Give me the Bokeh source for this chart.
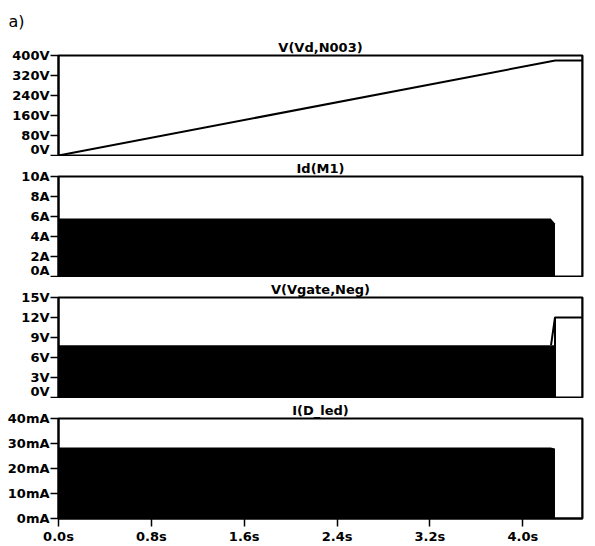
from bokeh.plotting import figure
from bokeh.layouts import column
from bokeh.models import Range1d, FixedTicker, Title, Span
from bokeh.embed import file_html
from bokeh.resources import INLINE

# ---------------- data ----------------
x_end = 4.514
x_ticks = [0.0, 0.8, 1.6, 2.4, 3.2, 4.0]
x_labels = ["0.0s", "0.8s", "1.6s", "2.4s", "3.2s", "4.0s"]

# V(Vd,N003)
vd_t = [0.0, 4.279, 4.514]
vd_v = [0.0, 380.0, 380.0]
vd_ticks = [0, 80, 160, 240, 320, 400]
vd_labels = ["0V", "80V", "160V", "240V", "320V", "400V"]

# switching envelope times (waveform switches too fast -> solid black)
env_t = [0.0, 4.24, 4.277]

# Id(M1)
id_env = [5.8, 5.8, 5.3]
id_ticks = [0, 2, 4, 6, 8, 10]
id_labels = ["0A", "2A", "4A", "6A", "8A", "10A"]

# V(Vgate,Neg)
gate_env = [7.85, 7.85, 7.85]
gate_tail_t = [4.243, 4.277, 4.514]
gate_tail_v = [7.85, 12.0, 12.0]
gate_edge_t = [4.277, 4.277]
gate_edge_v = [0.0, 12.0]
gate_ticks = [0, 3, 6, 9, 12, 15]
gate_labels = ["0V", "3V", "6V", "9V", "12V", "15V"]

# I(D_led) in mA
led_env = [28.4, 28.4, 28.0]
led_ticks = [0, 10, 20, 30, 40]
led_labels = ["0mA", "10mA", "20mA", "30mA", "40mA"]

FONT = "DejaVu Sans"
FS = "13px"
LEFT = 58
FW = 524
FH = 100
RIGHT = 13


def make_panel(title, ymax, yticks, ylabels, top, bottom, show_x):
    p = figure(width=LEFT + FW + RIGHT, height=top + FH + bottom,
               frame_width=FW, frame_height=FH,
               x_range=Range1d(0, x_end), y_range=Range1d(0, ymax),
               output_backend="svg", toolbar_location=None,
               min_border_left=LEFT, min_border_right=RIGHT,
               min_border_top=top, min_border_bottom=bottom)
    p.title.visible = False
    t = Title(text=title, align="center", text_font=FONT,
              text_font_size=FS, text_font_style="bold",
              text_color="black", standoff=2)
    p.add_layout(t, "above")
    p.xgrid.visible = False
    p.ygrid.visible = False
    p.outline_line_color = "black"
    p.outline_line_width = 2
    p.background_fill_color = "white"
    p.border_fill_color = "white"
    p.add_layout(Span(location=x_end, dimension="height",
                      line_color="black", line_width=2))

    ya = p.yaxis[0]
    ya.ticker = FixedTicker(ticks=yticks)
    ya.major_label_overrides = {k: v for k, v in zip(yticks, ylabels)}
    ya.major_label_text_font = FONT
    ya.major_label_text_font_size = FS
    ya.major_label_text_font_style = "bold"
    ya.major_label_text_color = "black"
    ya.major_tick_out = 8
    ya.major_tick_in = 0
    ya.major_tick_line_width = 1.5
    ya.minor_tick_line_color = None
    ya.axis_line_width = 2
    ya.major_label_standoff = 1

    xa = p.xaxis[0]
    if show_x:
        xa.ticker = FixedTicker(ticks=x_ticks)
        xa.major_label_overrides = {k: v for k, v in zip(x_ticks, x_labels)}
        xa.major_label_text_font = FONT
        xa.major_label_text_font_size = FS
        xa.major_label_text_font_style = "bold"
        xa.major_label_text_color = "black"
        xa.major_tick_out = 8
        xa.major_tick_in = 0
        xa.major_tick_line_width = 1.5
        xa.minor_tick_line_color = None
        xa.axis_line_width = 2
        xa.major_label_standoff = 2
    else:
        xa.visible = False
    return p


p1 = make_panel("V(Vd,N003)", 400, vd_ticks, vd_labels, 55, 1, False)
p1.add_layout(Title(text="a)", align="left", offset=-50, text_font=FONT,
                    text_font_size="16px", text_font_style="normal",
                    text_color="black", standoff=12), "above")
p1.line(vd_t, vd_v, line_color="black", line_width=2)

p2 = make_panel("Id(M1)", 10, id_ticks, id_labels, 20, 1, False)
p2.varea(x=env_t, y1=[0, 0, 0], y2=id_env, fill_color="black")

p3 = make_panel("V(Vgate,Neg)", 15, gate_ticks, gate_labels, 20, 1, False)
p3.varea(x=env_t, y1=[0, 0, 0], y2=gate_env, fill_color="black")
p3.line(gate_tail_t, gate_tail_v, line_color="black", line_width=2)
p3.line(gate_edge_t, gate_edge_v, line_color="black", line_width=2)

p4 = make_panel("I(D_led)", 40, led_ticks, led_labels, 20, 24, True)
p4.varea(x=env_t, y1=[0, 0, 0], y2=led_env, fill_color="black")

layout = column(p1, p2, p3, p4, spacing=0)

open("out.html", "w").write(file_html(layout, INLINE))
